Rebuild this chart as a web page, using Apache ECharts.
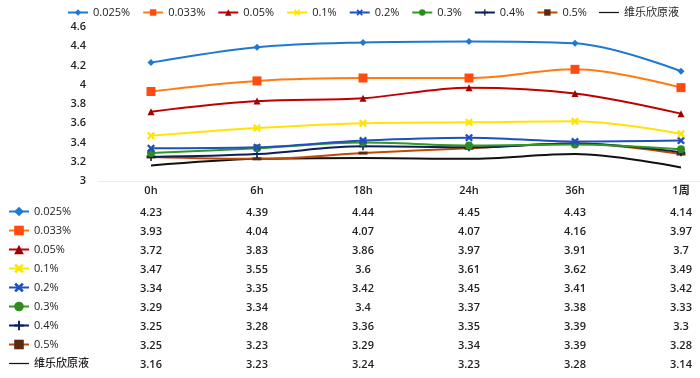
<!DOCTYPE html>
<html><head><meta charset="utf-8">
<script src="https://cdn.jsdelivr.net/npm/echarts@6/dist/echarts.min.js"></script>
<style>html,body{margin:0;padding:0;background:#fff}#c{width:700px;height:378px}</style>
</head><body><div id="c"></div>
<script>
const categories = ['0h','6h','18h','24h','36h','1周'];
const seriesNames = ['0.025%','0.033%','0.05%','0.1%','0.2%','0.3%','0.4%','0.5%','维乐欣原液'];
const s0025 = [4.23,4.39,4.44,4.45,4.43,4.14];
const s0033 = [3.93,4.04,4.07,4.07,4.16,3.97];
const s005  = [3.72,3.83,3.86,3.97,3.91,3.7];
const s01   = [3.47,3.55,3.6,3.61,3.62,3.49];
const s02   = [3.34,3.35,3.42,3.45,3.41,3.42];
const s03   = [3.29,3.34,3.4,3.37,3.38,3.33];
const s04   = [3.25,3.28,3.36,3.35,3.39,3.3];
const s05   = [3.25,3.23,3.29,3.34,3.39,3.28];
const sOrig = [3.16,3.23,3.24,3.23,3.28,3.14];
const yTicks = {min:3, max:4.6, interval:0.2};

const values = [s0025,s0033,s005,s01,s02,s03,s04,s05,sOrig];
const lineColors = ['#1f78d1','#ff7a10','#c00000','#ffe400','#1f4fc0','#2f9a1f','#0b1f5c','#c04a00','#111111'];
const markColors = ['#1f78d1','#ff4a10','#a00000','#ffe400','#1f4fc0','#2f8a1f','#0b1f5c','#5a2a10','#111111'];
const xPath = 'path://M2,0 L5,3 L8,0 L10,2 L7,5 L10,8 L8,10 L5,7 L2,10 L0,8 L3,5 L0,2 Z';
const plusPath = 'path://M4,0 H6 V4 H10 V6 H6 V10 H4 V6 H0 V4 H4 Z';
const symbols = ['diamond','rect','triangle',xPath,xPath,'circle',plusPath,'rect','none'];
const symSizes = [7,9,7,8,8,8,8,[9,3],1];
const lineIcon = 'path://M0,4.2H26V5.8H0Z';

const font = '"Open Sans", "Noto Sans CJK SC", sans-serif';
const textStyle = {fontFamily:font, fontSize:11, color:'#222', fontWeight:600};
const legendText = {fontFamily:font, fontSize:11, color:'#222', fontWeight:400};

const xAxes = [{
  type:'category', data:categories, gridIndex:0, boundaryGap:true, position:'bottom',
  axisLine:{show:true, lineStyle:{color:'#ececec'}}, axisTick:{show:false},
  axisLabel:Object.assign({margin:4, interval:0}, textStyle)
}];
values.forEach((v,i)=>{
  xAxes.push({
    type:'category', data:v.map(String), gridIndex:0, boundaryGap:true, position:'bottom',
    offset: 22 + 19*i,
    axisLine:{show:false}, axisTick:{show:false}, splitLine:{show:false},
    axisLabel:Object.assign({margin:4, interval:0}, textStyle)
  });
});

const series = values.map((v,i)=>({
  name:seriesNames[i], type:'line', data:v, xAxisIndex:0, yAxisIndex:0,
  smooth:0.35, symbol:symbols[i], symbolSize:symSizes[i], showSymbol:symbols[i]!=='none',
  lineStyle:{width:2, color:lineColors[i]},
  itemStyle:{color:markColors[i], borderWidth:0},
  z: 10 - i
}));

const legendData = seriesNames.map((n,i)=> symbols[i]==='none' ? {name:n, icon:lineIcon} : {name:n});

const chart = echarts.init(document.getElementById('c'), null, {renderer:'canvas'});
chart.setOption({
  animation:false,
  backgroundColor:'#fff',
  color:lineColors,
  legend:[{
    data:legendData, top:7, left:67, itemWidth:20, itemHeight:8, itemGap:12,
    textStyle:legendText, padding:0
  },{
    data:legendData, orient:'vertical', left:8, top:206, height:190, itemWidth:20, itemHeight:12, itemGap:8,
    textStyle:Object.assign({}, legendText, {fontWeight:500}), padding:0
  }],
  grid:{left:98, width:636, top:27, height:154, containLabel:false, outerBoundsMode:'none'},
  xAxis:xAxes,
  yAxis:{
    type:'value', min:yTicks.min, max:yTicks.max, interval:yTicks.interval,
    axisLine:{show:false}, axisTick:{show:false},
    splitLine:{show:false},
    axisLabel:Object.assign({margin:12, formatter:(v)=>String(+v.toFixed(1))}, textStyle)
  },
  series:series
});
</script></body></html>
